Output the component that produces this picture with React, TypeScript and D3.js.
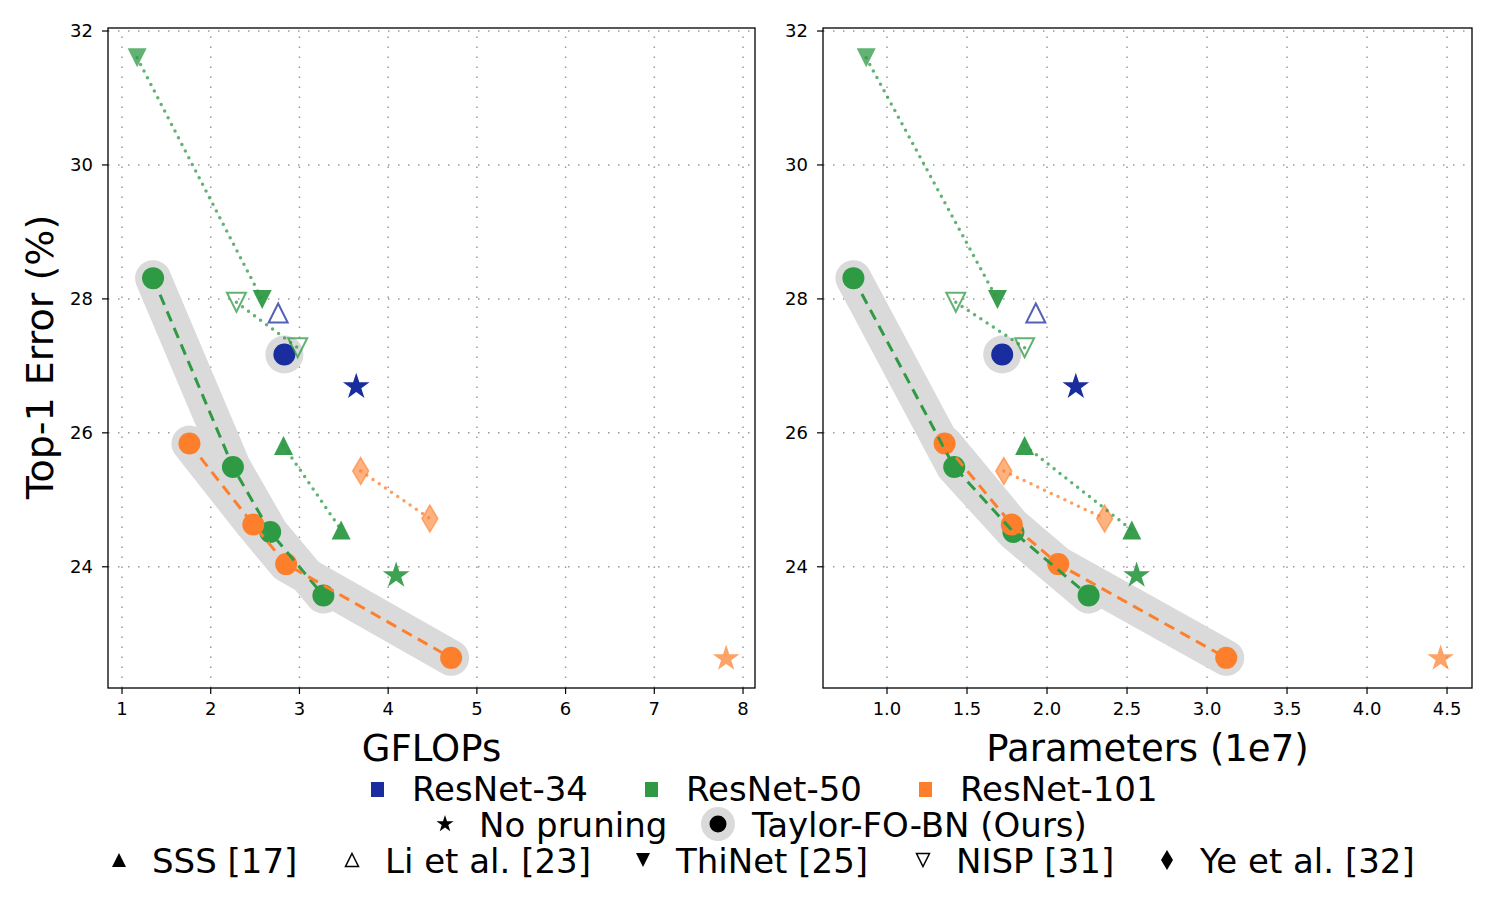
import { useEffect, useRef } from "react"
import * as d3 from "d3"

const BLUE = "#1a2d9f"
const GREEN = "#2e9a44"
const ORANGE = "#fd7f2c"

// Taylor-FO-BN pruned models (ours)
const taylor34Flops = [2.83]
const taylor34Params = [1.72]
const taylor34Err = [27.17]

const taylor50Flops = [1.35, 2.25, 2.67, 3.27]
const taylor50Params = [0.79, 1.42, 1.79, 2.26]
const taylor50Err = [28.31, 25.49, 24.52, 23.57]

const taylor101Flops = [1.76, 2.48, 2.85, 4.71]
const taylor101Params = [1.36, 1.78, 2.07, 3.12]
const taylor101Err = [25.84, 24.63, 24.04, 22.64]

// Unpruned baselines: ResNet-34, ResNet-50, ResNet-101
const baseFlops = [3.64, 4.09, 7.81]
const baseParams = [2.18, 2.56, 4.46]
const baseErr = [26.69, 23.87, 22.63]

// Other methods
const sssFlops = [2.82, 3.47]
const sssParams = [1.86, 2.53]
const sssErr = [25.81, 24.55]

const liFlops = [2.76]
const liParams = [1.93]
const liErr = [27.79]

const thinetFlops = [1.17, 2.58]
const thinetParams = [0.87, 1.69]
const thinetErr = [31.6, 27.99]

const nispFlops = [2.29, 2.98]
const nispParams = [1.43, 1.86]
const nispErr = [27.95, 27.27]

const yeFlops = [3.69, 4.47]
const yeParams = [1.73, 2.36]
const yeErr = [25.43, 24.72]

const flopsTicks = [1, 2, 3, 4, 5, 6, 7, 8]
const paramTicks = [1.0, 1.5, 2.0, 2.5, 3.0, 3.5, 4.0, 4.5]
const errTicks = [24, 26, 28, 30, 32]

const FONT = "DejaVu Sans, Liberation Sans, sans-serif"

type Pt = [number, number]
const zip = (xs: number[], ys: number[]): Pt[] => xs.map((x, i) => [x, ys[i]])

const triUp = (s: number) => `M0,${-s}L${s},${s}L${-s},${s}Z`
const triDown = (s: number) => `M0,${s}L${s},${-s}L${-s},${-s}Z`
const diamond = (h: number, w: number) => `M0,${-h}L${w},0L0,${h}L${-w},0Z`
const star = (r: number) => d3.symbol(d3.symbolStar, (r * r) / 0.8908130915292852)()

export default function App() {
  const svgRef = useRef<SVGSVGElement>(null)

  useEffect(() => {
    if (!svgRef.current) return
    const svg = d3.select(svgRef.current)
    svg.selectAll("*").remove()

    const top = 28
    const bottom = 688
    const y = d3.scaleLinear().domain([22.19, 32.045]).range([bottom, top])

    const panels = [
      {
        left: 108,
        right: 755,
        domain: [0.842, 8.135],
        ticks: flopsTicks,
        fmt: d3.format("d"),
        label: "GFLOPs",
        t34: zip(taylor34Flops, taylor34Err),
        t50: zip(taylor50Flops, taylor50Err),
        t101: zip(taylor101Flops, taylor101Err),
        base: zip(baseFlops, baseErr),
        sss: zip(sssFlops, sssErr),
        li: zip(liFlops, liErr),
        thinet: zip(thinetFlops, thinetErr),
        nisp: zip(nispFlops, nispErr),
        ye: zip(yeFlops, yeErr),
      },
      {
        left: 823,
        right: 1472,
        domain: [0.6, 4.656],
        ticks: paramTicks,
        fmt: d3.format(".1f"),
        label: "Parameters (1e7)",
        t34: zip(taylor34Params, taylor34Err),
        t50: zip(taylor50Params, taylor50Err),
        t101: zip(taylor101Params, taylor101Err),
        base: zip(baseParams, baseErr),
        sss: zip(sssParams, sssErr),
        li: zip(liParams, liErr),
        thinet: zip(thinetParams, thinetErr),
        nisp: zip(nispParams, nispErr),
        ye: zip(yeParams, yeErr),
      },
    ]

    panels.forEach((p) => {
      const x = d3.scaleLinear().domain(p.domain).range([p.left, p.right])
      const line = d3
        .line<Pt>()
        .x((d) => x(d[0]))
        .y((d) => y(d[1]))
      const at = (d: Pt) => `translate(${x(d[0])},${y(d[1])})`

      const clipId = `clip-${p.left}`
      svg
        .append("clipPath")
        .attr("id", clipId)
        .append("rect")
        .attr("x", p.left)
        .attr("y", top)
        .attr("width", p.right - p.left)
        .attr("height", bottom - top)

      const g = svg.append("g")
      const plot = g.append("g").attr("clip-path", `url(#${clipId})`)

      // dotted grid
      plot
        .selectAll(".vgrid")
        .data(p.ticks)
        .enter()
        .append("line")
        .attr("x1", (d) => x(d))
        .attr("x2", (d) => x(d))
        .attr("y1", bottom)
        .attr("y2", top)
        .attr("stroke", "#9a9a9a")
        .attr("stroke-width", 1.5)
        .attr("stroke-dasharray", "1.5,8.5")
      plot
        .selectAll(".hgrid")
        .data(errTicks)
        .enter()
        .append("line")
        .attr("x1", p.left)
        .attr("x2", p.right)
        .attr("y1", (d) => y(d))
        .attr("y2", (d) => y(d))
        .attr("stroke", "#9a9a9a")
        .attr("stroke-width", 1.5)
        .attr("stroke-dasharray", "1.5,8.5")

      // grey halo behind our results
      ;[p.t50, p.t101].forEach((pts) => {
        plot
          .append("path")
          .attr("d", line(pts))
          .attr("fill", "none")
          .attr("stroke", "#dadada")
          .attr("stroke-width", 36)
          .attr("stroke-linecap", "round")
          .attr("stroke-linejoin", "round")
      })
      plot
        .selectAll(".halo34")
        .data(p.t34)
        .enter()
        .append("circle")
        .attr("cx", (d) => x(d[0]))
        .attr("cy", (d) => y(d[1]))
        .attr("r", 19)
        .attr("fill", "#dadada")

      // Taylor-FO-BN points and dashed curves
      const taylor: [Pt[], string][] = [
        [p.t50, GREEN],
        [p.t101, ORANGE],
        [p.t34, BLUE],
      ]
      taylor.forEach(([pts, color]) => {
        plot
          .append("g")
          .selectAll("circle")
          .data(pts)
          .enter()
          .append("circle")
          .attr("cx", (d) => x(d[0]))
          .attr("cy", (d) => y(d[1]))
          .attr("r", 11)
          .attr("fill", color)
      })
      taylor.slice(0, 2).forEach(([pts, color]) => {
        plot
          .append("path")
          .attr("d", line(pts))
          .attr("fill", "none")
          .attr("stroke", color)
          .attr("stroke-width", 3)
          .attr("stroke-dasharray", "11,7")
      })

      // unpruned baselines
      const baseColors = [BLUE, GREEN, ORANGE]
      const baseAlpha = [1, 0.92, 0.72]
      plot
        .selectAll(".base")
        .data(p.base)
        .enter()
        .append("path")
        .attr("transform", at)
        .attr("d", star(14))
        .attr("fill", (d, i) => baseColors[i])
        .attr("fill-opacity", (d, i) => baseAlpha[i])

      // SSS
      plot
        .selectAll(".sss")
        .data(p.sss)
        .enter()
        .append("path")
        .attr("transform", at)
        .attr("d", triUp(9.5))
        .attr("fill", GREEN)
        .attr("fill-opacity", 0.95)

      // Li et al.
      plot
        .selectAll(".li")
        .data(p.li)
        .enter()
        .append("path")
        .attr("transform", at)
        .attr("d", triUp(9.5))
        .attr("fill", "none")
        .attr("stroke", BLUE)
        .attr("stroke-opacity", 0.75)
        .attr("stroke-width", 2)

      // ThiNet
      const thinetAlpha = [0.75, 0.95]
      plot
        .selectAll(".thinet")
        .data(p.thinet)
        .enter()
        .append("path")
        .attr("transform", at)
        .attr("d", triDown(9.5))
        .attr("fill", GREEN)
        .attr("fill-opacity", (d, i) => thinetAlpha[i])

      // NISP
      plot
        .selectAll(".nisp")
        .data(p.nisp)
        .enter()
        .append("path")
        .attr("transform", at)
        .attr("d", triDown(9.5))
        .attr("fill", "none")
        .attr("stroke", GREEN)
        .attr("stroke-opacity", 0.75)
        .attr("stroke-width", 2)

      // Ye et al.
      plot
        .selectAll(".ye")
        .data(p.ye)
        .enter()
        .append("path")
        .attr("transform", at)
        .attr("d", diamond(13.5, 8))
        .attr("fill", ORANGE)
        .attr("fill-opacity", 0.6)
        .attr("stroke", ORANGE)
        .attr("stroke-opacity", 0.6)
        .attr("stroke-width", 1.5)

      // dotted links between settings of the same method
      const links: [Pt[], string][] = [
        [p.thinet, GREEN],
        [p.nisp, GREEN],
        [p.sss, GREEN],
        [p.ye, ORANGE],
      ]
      links.forEach(([pts, color]) => {
        plot
          .append("path")
          .attr("d", line(pts))
          .attr("fill", "none")
          .attr("stroke", color)
          .attr("stroke-opacity", 0.75)
          .attr("stroke-width", 3.5)
          .attr("stroke-linecap", "round")
          .attr("stroke-dasharray", "0,7.5")
      })

      // frame
      g.append("rect")
        .attr("x", p.left)
        .attr("y", top)
        .attr("width", p.right - p.left)
        .attr("height", bottom - top)
        .attr("fill", "none")
        .attr("stroke", "black")
        .attr("stroke-width", 1.3)

      // x axis
      const xt = g.selectAll(".xt").data(p.ticks).enter().append("g")
      xt.append("line")
        .attr("x1", (d) => x(d))
        .attr("x2", (d) => x(d))
        .attr("y1", bottom)
        .attr("y2", bottom + 6)
        .attr("stroke", "black")
        .attr("stroke-width", 1.2)
      xt.append("text")
        .attr("x", (d) => x(d))
        .attr("y", bottom + 27)
        .attr("text-anchor", "middle")
        .style("font-family", FONT)
        .style("font-size", "18px")
        .text((d) => p.fmt(d))

      // y axis
      const yt = g.selectAll(".yt").data(errTicks).enter().append("g")
      yt.append("line")
        .attr("x1", p.left - 6)
        .attr("x2", p.left)
        .attr("y1", (d) => y(d))
        .attr("y2", (d) => y(d))
        .attr("stroke", "black")
        .attr("stroke-width", 1.2)
      yt.append("text")
        .attr("x", p.left - 15)
        .attr("y", (d) => y(d))
        .attr("dy", "0.36em")
        .attr("text-anchor", "end")
        .style("font-family", FONT)
        .style("font-size", "18px")
        .text((d) => d)

      g.append("text")
        .attr("x", (p.left + p.right) / 2)
        .attr("y", 761)
        .attr("text-anchor", "middle")
        .style("font-family", FONT)
        .style("font-size", "37px")
        .text(p.label)
    })

    svg
      .append("text")
      .attr("transform", "translate(53,357) rotate(-90)")
      .attr("text-anchor", "middle")
      .style("font-family", FONT)
      .style("font-size", "38px")
      .text("Top-1 Error (%)")

    // legend
    const leg = svg.append("g").style("font-family", FONT).style("font-size", "34px")
    const label = (tx: number, ty: number, s: string) =>
      leg.append("text").attr("x", tx).attr("y", ty).attr("dy", "0.36em").text(s)

    const modelNames = ["ResNet-34", "ResNet-50", "ResNet-101"]
    const modelX = [412, 686, 960]
    const modelColors = [BLUE, GREEN, ORANGE]
    modelNames.forEach((n, i) => {
      leg.append("rect")
        .attr("x", modelX[i] - 41)
        .attr("y", 782)
        .attr("width", 13)
        .attr("height", 15)
        .attr("fill", modelColors[i])
      label(modelX[i], 789, n)
    })

    leg.append("path").attr("transform", "translate(445,824)").attr("d", star(9)).attr("fill", "black")
    label(479, 825, "No pruning")
    leg.append("circle").attr("cx", 718).attr("cy", 824).attr("r", 17).attr("fill", "#dadada")
    leg.append("circle").attr("cx", 718).attr("cy", 824).attr("r", 8.5).attr("fill", "black")
    label(752, 825, "Taylor-FO-BN (Ours)")

    const methodNames = ["SSS [17]", "Li et al. [23]", "ThiNet [25]", "NISP [31]", "Ye et al. [32]"]
    const methodX = [152, 385, 676, 956, 1200]
    const methodShape = [triUp(7), triUp(6.5), triDown(7), triDown(6.5), diamond(10, 6)]
    const methodFilled = [true, false, true, false, true]
    methodNames.forEach((n, i) => {
      const m = leg
        .append("path")
        .attr("transform", `translate(${methodX[i] - 33},860)`)
        .attr("d", methodShape[i])
      if (methodFilled[i]) m.attr("fill", "black")
      else m.attr("fill", "none").attr("stroke", "black").attr("stroke-width", 1.5)
      label(methodX[i], 861, n)
    })
  }, [])

  return (
    <svg
      ref={svgRef}
      width={1500}
      height={900}
      style={{ position: "absolute", left: 0, top: 0, background: "white" }}
    />
  )
}
